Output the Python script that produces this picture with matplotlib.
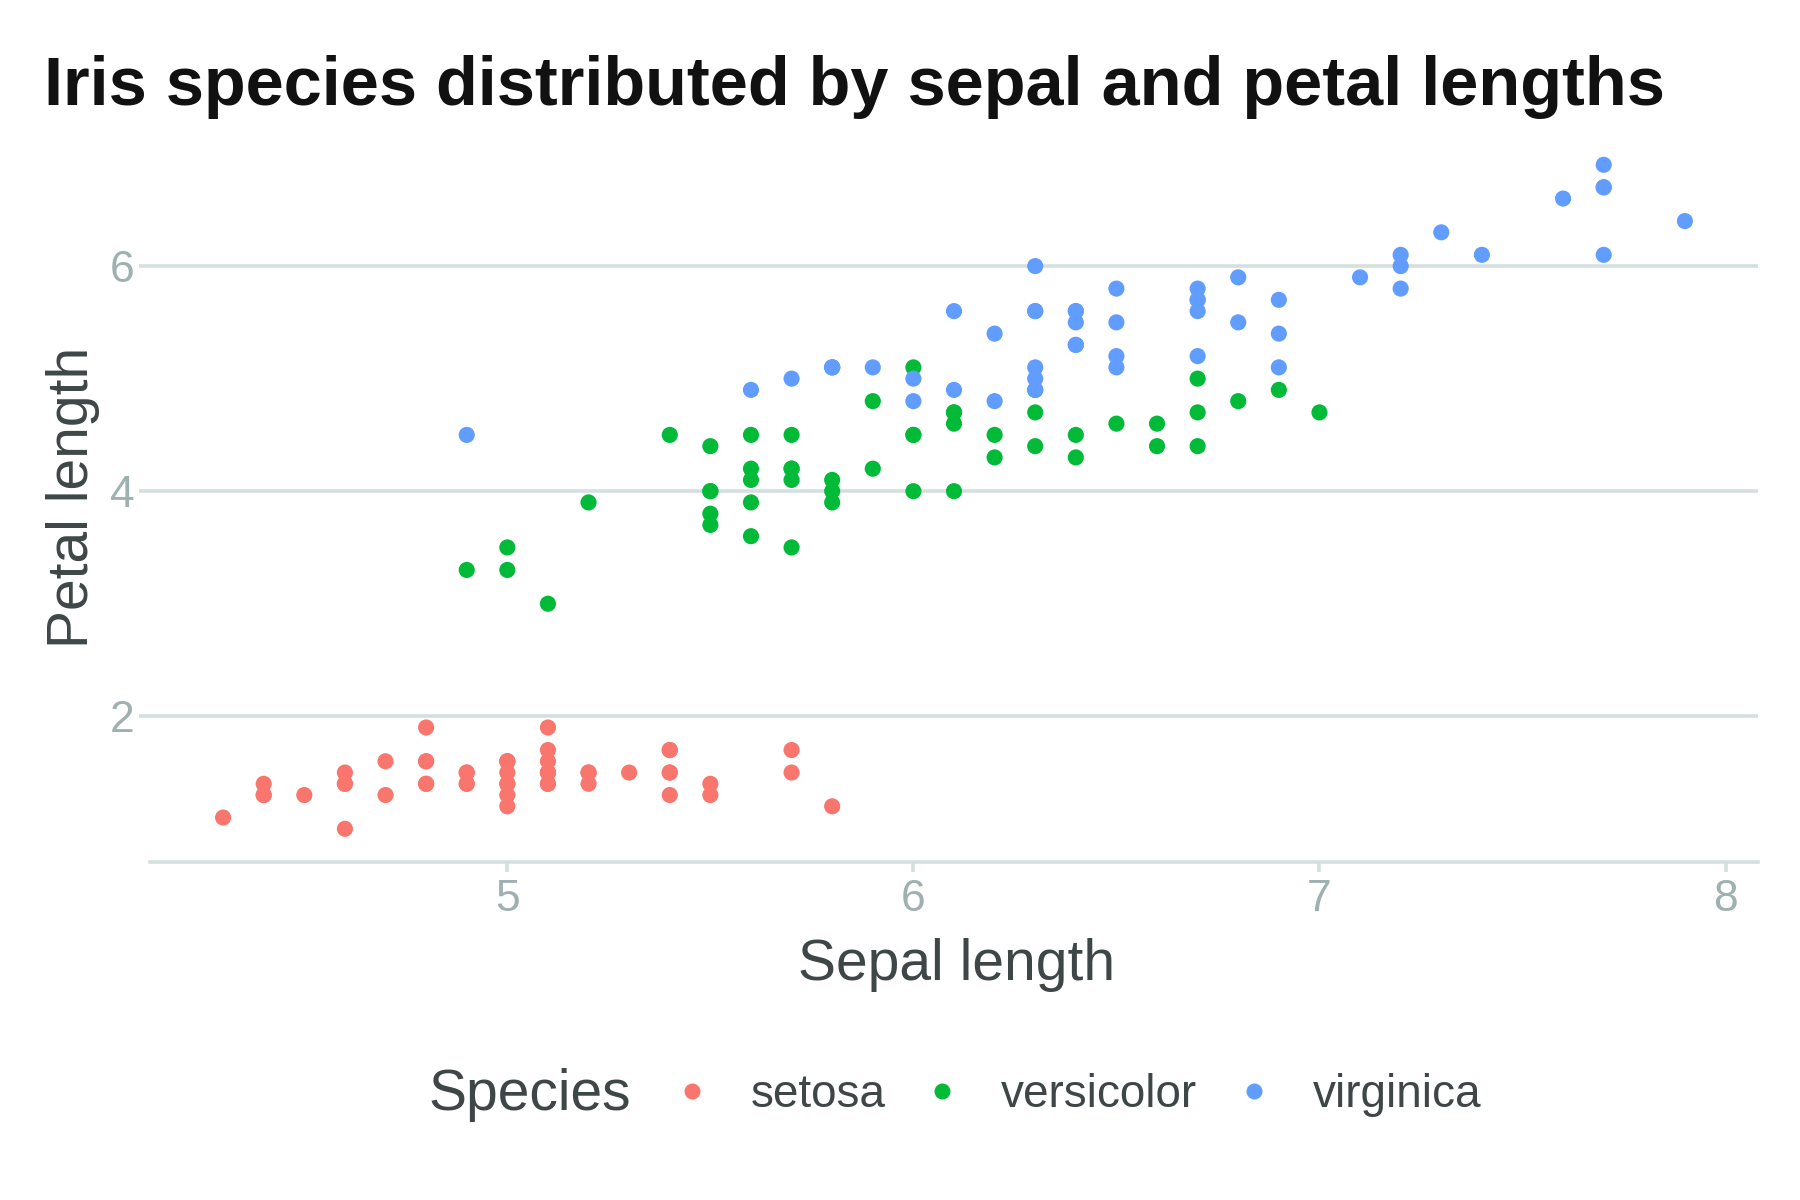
import matplotlib
matplotlib.use("Agg")
import matplotlib.pyplot as plt
from matplotlib.lines import Line2D

plt.rcParams['font.family'] = ['Liberation Sans', 'DejaVu Sans']

species = ["setosa", "versicolor", "virginica"]
colors = ["#F8766D", "#00BA38", "#619CFF"]

setosa_sepal = [5.1, 4.9, 4.7, 4.6, 5.0, 5.4, 4.6, 5.0, 4.4, 4.9, 5.4, 4.8, 4.8, 4.3, 5.8, 5.7, 5.4, 5.1, 5.7, 5.1,
                5.4, 5.1, 4.6, 5.1, 4.8, 5.0, 5.0, 5.2, 5.2, 4.7, 4.8, 5.4, 5.2, 5.5, 4.9, 5.0, 5.5, 4.9, 4.4, 5.1,
                5.0, 4.5, 4.4, 5.0, 5.1, 4.8, 5.1, 4.6, 5.3, 5.0]
setosa_petal = [1.4, 1.4, 1.3, 1.5, 1.4, 1.7, 1.4, 1.5, 1.4, 1.5, 1.5, 1.6, 1.4, 1.1, 1.2, 1.5, 1.3, 1.4, 1.7, 1.5,
                1.7, 1.5, 1.0, 1.7, 1.9, 1.6, 1.6, 1.5, 1.4, 1.6, 1.6, 1.5, 1.5, 1.4, 1.5, 1.2, 1.3, 1.4, 1.3, 1.5,
                1.3, 1.3, 1.3, 1.6, 1.9, 1.4, 1.6, 1.4, 1.5, 1.4]

versicolor_sepal = [7.0, 6.4, 6.9, 5.5, 6.5, 5.7, 6.3, 4.9, 6.6, 5.2, 5.0, 5.9, 6.0, 6.1, 5.6, 6.7, 5.6, 5.8, 6.2, 5.6,
                    5.9, 6.1, 6.3, 6.1, 6.4, 6.6, 6.8, 6.7, 6.0, 5.7, 5.5, 5.5, 5.8, 6.0, 5.4, 6.0, 6.7, 6.3, 5.6, 5.5,
                    5.5, 6.1, 5.8, 5.0, 5.6, 5.7, 5.7, 6.2, 5.1, 5.7]
versicolor_petal = [4.7, 4.5, 4.9, 4.0, 4.6, 4.5, 4.7, 3.3, 4.6, 3.9, 3.5, 4.2, 4.0, 4.7, 3.6, 4.4, 4.5, 4.1, 4.5, 3.9,
                    4.8, 4.0, 4.9, 4.7, 4.3, 4.4, 4.8, 5.0, 4.5, 3.5, 3.8, 3.7, 3.9, 5.1, 4.5, 4.5, 4.7, 4.4, 4.1, 4.0,
                    4.4, 4.6, 4.0, 3.3, 4.2, 4.2, 4.2, 4.3, 3.0, 4.1]

virginica_sepal = [6.3, 5.8, 7.1, 6.3, 6.5, 7.6, 4.9, 7.3, 6.7, 7.2, 6.5, 6.4, 6.8, 5.7, 5.8, 6.4, 6.5, 7.7, 7.7, 6.0,
                   6.9, 5.6, 7.7, 6.3, 6.7, 7.2, 6.2, 6.1, 6.4, 7.2, 7.4, 7.9, 6.4, 6.3, 6.1, 7.7, 6.3, 6.4, 6.0, 6.9,
                   6.7, 6.9, 5.8, 6.8, 6.7, 6.7, 6.3, 6.5, 6.2, 5.9]
virginica_petal = [6.0, 5.1, 5.9, 5.6, 5.8, 6.6, 4.5, 6.3, 5.8, 6.1, 5.1, 5.3, 5.5, 5.0, 5.1, 5.3, 5.5, 6.7, 6.9, 5.0,
                   5.7, 4.9, 6.7, 4.9, 5.7, 6.0, 4.8, 4.9, 5.6, 5.8, 6.1, 6.4, 5.6, 5.1, 5.6, 6.1, 5.6, 5.5, 4.8, 5.4,
                   5.6, 5.1, 5.1, 5.9, 5.7, 5.2, 5.0, 5.2, 5.4, 5.1]

x_ticks = [5, 6, 7, 8]
y_ticks = [2, 4, 6]

title = "Iris species distributed by sepal and petal lengths"
x_title = "Sepal length"
y_title = "Petal length"
legend_title = "Species"

GRID = "#d6dfdf"
TICKC = "#9fb0b1"
AXT = "#3f4647"

fig = plt.figure(figsize=(18, 12), dpi=100)
W, H = 1800, 1200
left, right, top, bottom = 150, 1758, 131.6, 862
ax = fig.add_axes([left / W, 1 - bottom / H, (right - left) / W, (bottom - top) / H])

data = [(setosa_sepal, setosa_petal), (versicolor_sepal, versicolor_petal), (virginica_sepal, virginica_petal)]
for (xs, ys), c in zip(data, colors):
    ax.scatter(xs, ys, s=135, color=c, edgecolors='none', zorder=3)

xmin, xmax = 4.3, 7.9
ymin, ymax = 1.0, 6.9
ex = (xmax - xmin) * 0.05
ey = (ymax - ymin) * 0.05
ax.set_xlim(xmin - ex, xmax + ex)
ax.set_ylim(ymin - ey, ymax + ey)

ax.set_xticks(x_ticks)
ax.set_yticks(y_ticks)
ax.set_xticklabels([str(v) for v in x_ticks])
ax.set_yticklabels([str(v) for v in y_ticks])

for s in ['top', 'right', 'left']:
    ax.spines[s].set_visible(False)
ax.spines['bottom'].set_color(GRID)
ax.spines['bottom'].set_linewidth(2.6)

ax.yaxis.grid(True, color=GRID, linewidth=2.6, zorder=0)
ax.xaxis.grid(False)
ax.set_axisbelow(True)

ax.tick_params(axis='x', length=7.5, width=2.6, color=GRID, labelcolor=TICKC, labelsize=32, pad=5)
ax.tick_params(axis='y', length=8, width=2.6, color=GRID, labelcolor=TICKC, labelsize=32, pad=3)

ax.set_xlabel(x_title, fontsize=41, color=AXT)
ax.xaxis.set_label_coords((957 - left) / (right - left), (bottom - 965) / (bottom - top))
ax.xaxis.label.set_va('center')
ax.set_ylabel(y_title, fontsize=41, color=AXT)
ax.yaxis.set_label_coords((73 - left) / (right - left), (bottom - 497) / (bottom - top))
ax.yaxis.label.set_va('center')

fig.text(44 / W, 1 - 105 / H, title, fontsize=49.3, fontweight='bold', color="#111111",
         ha='left', va='baseline')

ly = 1 - 1095 / H
fig.text(428 / W, ly, legend_title, fontsize=41, color=AXT, ha='left', va='center')
handles = [Line2D([], [], marker='o', linestyle='none', markersize=11.5, markerfacecolor=c,
                  markeredgecolor='none') for c in colors]
leg = fig.legend(handles, species, loc='center left', bbox_to_anchor=(678 / W, ly), ncol=3,
                 frameon=False, fontsize=33, handlelength=0.6, handletextpad=0.98,
                 columnspacing=0.94, borderpad=0, borderaxespad=0)
for t in leg.get_texts():
    t.set_color(AXT)

fig.savefig("out.png", dpi=100)
